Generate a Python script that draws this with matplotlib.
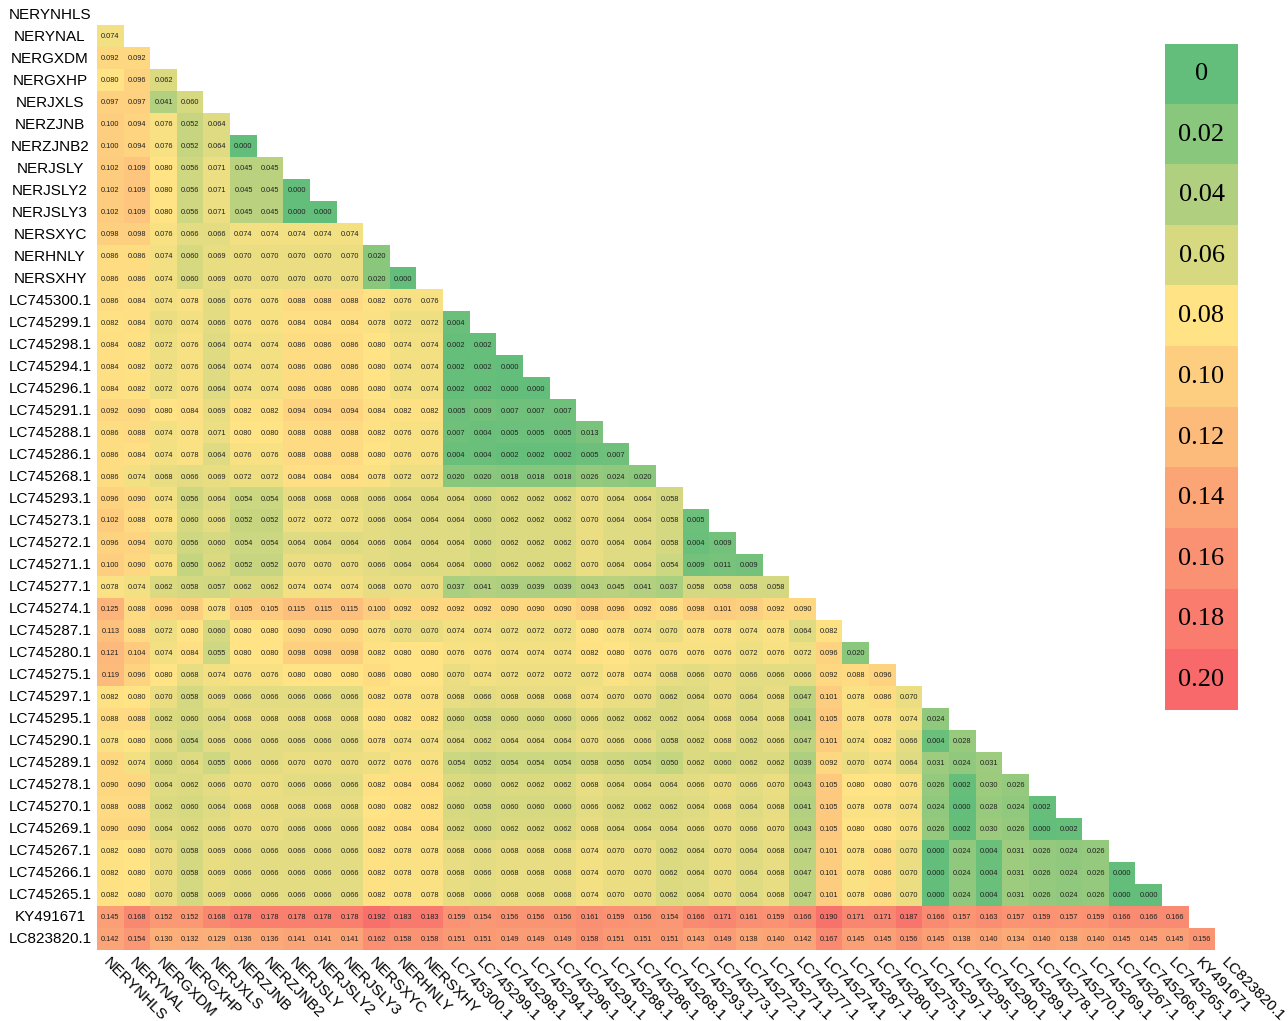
import numpy as np
import matplotlib
matplotlib.use("Agg")
import matplotlib.pyplot as plt
from matplotlib.colors import LinearSegmentedColormap, Normalize

plt.rcParams["font.family"] = ["Liberation Sans", "DejaVu Sans"]

LABELS = [
    "NERYNHLS", "NERYNAL", "NERGXDM", "NERGXHP", "NERJXLS", "NERZJNB", "NERZJNB2",
    "NERJSLY", "NERJSLY2", "NERJSLY3", "NERSXYC", "NERHNLY", "NERSXHY",
    "LC745300.1", "LC745299.1", "LC745298.1", "LC745294.1", "LC745296.1",
    "LC745291.1", "LC745288.1", "LC745286.1", "LC745268.1", "LC745293.1",
    "LC745273.1", "LC745272.1", "LC745271.1", "LC745277.1", "LC745274.1",
    "LC745287.1", "LC745280.1", "LC745275.1", "LC745297.1", "LC745295.1",
    "LC745290.1", "LC745289.1", "LC745278.1", "LC745270.1", "LC745269.1",
    "LC745267.1", "LC745266.1", "LC745265.1", "KY491671", "LC823820.1",
]

# lower triangle of the pairwise distance matrix, row by row (diagonal excluded)
DIST_ROWS = [
    [],
    [0.074],
    [0.092, 0.092],
    [0.080, 0.096, 0.062],
    [0.097, 0.097, 0.041, 0.060],
    [0.100, 0.094, 0.076, 0.052, 0.064],
    [0.100, 0.094, 0.076, 0.052, 0.064, 0.000],
    [0.102, 0.109, 0.080, 0.056, 0.071, 0.045, 0.045],
    [0.102, 0.109, 0.080, 0.056, 0.071, 0.045, 0.045, 0.000],
    [0.102, 0.109, 0.080, 0.056, 0.071, 0.045, 0.045, 0.000, 0.000],
    [0.098, 0.098, 0.076, 0.066, 0.066, 0.074, 0.074, 0.074, 0.074, 0.074],
    [0.086, 0.086, 0.074, 0.060, 0.069, 0.070, 0.070, 0.070, 0.070, 0.070, 0.020],
    [0.086, 0.086, 0.074, 0.060, 0.069, 0.070, 0.070, 0.070, 0.070, 0.070, 0.020, 0.000],
    [0.086, 0.084, 0.074, 0.078, 0.066, 0.076, 0.076, 0.088, 0.088, 0.088, 0.082, 0.076, 0.076],
    [0.082, 0.084, 0.070, 0.074, 0.066, 0.076, 0.076, 0.084, 0.084, 0.084, 0.078, 0.072, 0.072,
     0.004],
    [0.084, 0.082, 0.072, 0.076, 0.064, 0.074, 0.074, 0.086, 0.086, 0.086, 0.080, 0.074, 0.074,
     0.002, 0.002],
    [0.084, 0.082, 0.072, 0.076, 0.064, 0.074, 0.074, 0.086, 0.086, 0.086, 0.080, 0.074, 0.074,
     0.002, 0.002, 0.000],
    [0.084, 0.082, 0.072, 0.076, 0.064, 0.074, 0.074, 0.086, 0.086, 0.086, 0.080, 0.074, 0.074,
     0.002, 0.002, 0.000, 0.000],
    [0.092, 0.090, 0.080, 0.084, 0.069, 0.082, 0.082, 0.094, 0.094, 0.094, 0.084, 0.082, 0.082,
     0.005, 0.009, 0.007, 0.007, 0.007],
    [0.086, 0.088, 0.074, 0.078, 0.071, 0.080, 0.080, 0.088, 0.088, 0.088, 0.082, 0.076, 0.076,
     0.007, 0.004, 0.005, 0.005, 0.005, 0.013],
    [0.086, 0.084, 0.074, 0.078, 0.064, 0.076, 0.076, 0.088, 0.088, 0.088, 0.080, 0.076, 0.076,
     0.004, 0.004, 0.002, 0.002, 0.002, 0.005, 0.007],
    [0.086, 0.074, 0.068, 0.066, 0.069, 0.072, 0.072, 0.084, 0.084, 0.084, 0.078, 0.072, 0.072,
     0.020, 0.020, 0.018, 0.018, 0.018, 0.026, 0.024, 0.020],
    [0.096, 0.090, 0.074, 0.056, 0.064, 0.054, 0.054, 0.068, 0.068, 0.068, 0.066, 0.064, 0.064,
     0.064, 0.060, 0.062, 0.062, 0.062, 0.070, 0.064, 0.064, 0.058],
    [0.102, 0.088, 0.078, 0.060, 0.066, 0.052, 0.052, 0.072, 0.072, 0.072, 0.066, 0.064, 0.064,
     0.064, 0.060, 0.062, 0.062, 0.062, 0.070, 0.064, 0.064, 0.058, 0.005],
    [0.096, 0.094, 0.070, 0.056, 0.060, 0.054, 0.054, 0.064, 0.064, 0.064, 0.066, 0.064, 0.064,
     0.064, 0.060, 0.062, 0.062, 0.062, 0.070, 0.064, 0.064, 0.058, 0.004, 0.009],
    [0.100, 0.090, 0.076, 0.050, 0.062, 0.052, 0.052, 0.070, 0.070, 0.070, 0.066, 0.064, 0.064,
     0.064, 0.060, 0.062, 0.062, 0.062, 0.070, 0.064, 0.064, 0.054, 0.009, 0.011, 0.009],
    [0.078, 0.074, 0.062, 0.058, 0.057, 0.062, 0.062, 0.074, 0.074, 0.074, 0.068, 0.070, 0.070,
     0.037, 0.041, 0.039, 0.039, 0.039, 0.043, 0.045, 0.041, 0.037, 0.058, 0.058, 0.058, 0.058],
    [0.125, 0.088, 0.096, 0.098, 0.078, 0.105, 0.105, 0.115, 0.115, 0.115, 0.100, 0.092, 0.092,
     0.092, 0.092, 0.090, 0.090, 0.090, 0.098, 0.096, 0.092, 0.086, 0.098, 0.101, 0.098, 0.092,
     0.090],
    [0.113, 0.088, 0.072, 0.080, 0.060, 0.080, 0.080, 0.090, 0.090, 0.090, 0.076, 0.070, 0.070,
     0.074, 0.074, 0.072, 0.072, 0.072, 0.080, 0.078, 0.074, 0.070, 0.078, 0.078, 0.074, 0.078,
     0.064, 0.082],
    [0.121, 0.104, 0.074, 0.084, 0.055, 0.080, 0.080, 0.098, 0.098, 0.098, 0.082, 0.080, 0.080,
     0.076, 0.076, 0.074, 0.074, 0.074, 0.082, 0.080, 0.076, 0.076, 0.076, 0.076, 0.072, 0.076,
     0.072, 0.096, 0.020],
    [0.119, 0.096, 0.080, 0.068, 0.074, 0.076, 0.076, 0.080, 0.080, 0.080, 0.086, 0.080, 0.080,
     0.070, 0.074, 0.072, 0.072, 0.072, 0.072, 0.078, 0.074, 0.068, 0.066, 0.070, 0.066, 0.066,
     0.066, 0.092, 0.088, 0.096],
    [0.082, 0.080, 0.070, 0.058, 0.069, 0.066, 0.066, 0.066, 0.066, 0.066, 0.082, 0.078, 0.078,
     0.068, 0.066, 0.068, 0.068, 0.068, 0.074, 0.070, 0.070, 0.062, 0.064, 0.070, 0.064, 0.068,
     0.047, 0.101, 0.078, 0.086, 0.070],
    [0.088, 0.088, 0.062, 0.060, 0.064, 0.068, 0.068, 0.068, 0.068, 0.068, 0.080, 0.082, 0.082,
     0.060, 0.058, 0.060, 0.060, 0.060, 0.066, 0.062, 0.062, 0.062, 0.064, 0.068, 0.064, 0.068,
     0.041, 0.105, 0.078, 0.078, 0.074, 0.024],
    [0.078, 0.080, 0.066, 0.054, 0.066, 0.066, 0.066, 0.066, 0.066, 0.066, 0.078, 0.074, 0.074,
     0.064, 0.062, 0.064, 0.064, 0.064, 0.070, 0.066, 0.066, 0.058, 0.062, 0.068, 0.062, 0.066,
     0.047, 0.101, 0.074, 0.082, 0.066, 0.004, 0.028],
    [0.092, 0.074, 0.060, 0.064, 0.055, 0.066, 0.066, 0.070, 0.070, 0.070, 0.072, 0.076, 0.076,
     0.054, 0.052, 0.054, 0.054, 0.054, 0.058, 0.056, 0.054, 0.050, 0.062, 0.060, 0.062, 0.062,
     0.039, 0.092, 0.070, 0.074, 0.064, 0.031, 0.024, 0.031],
    [0.090, 0.090, 0.064, 0.062, 0.066, 0.070, 0.070, 0.066, 0.066, 0.066, 0.082, 0.084, 0.084,
     0.062, 0.060, 0.062, 0.062, 0.062, 0.068, 0.064, 0.064, 0.064, 0.066, 0.070, 0.066, 0.070,
     0.043, 0.105, 0.080, 0.080, 0.076, 0.026, 0.002, 0.030, 0.026],
    [0.088, 0.088, 0.062, 0.060, 0.064, 0.068, 0.068, 0.068, 0.068, 0.068, 0.080, 0.082, 0.082,
     0.060, 0.058, 0.060, 0.060, 0.060, 0.066, 0.062, 0.062, 0.062, 0.064, 0.068, 0.064, 0.068,
     0.041, 0.105, 0.078, 0.078, 0.074, 0.024, 0.000, 0.028, 0.024, 0.002],
    [0.090, 0.090, 0.064, 0.062, 0.066, 0.070, 0.070, 0.066, 0.066, 0.066, 0.082, 0.084, 0.084,
     0.062, 0.060, 0.062, 0.062, 0.062, 0.068, 0.064, 0.064, 0.064, 0.066, 0.070, 0.066, 0.070,
     0.043, 0.105, 0.080, 0.080, 0.076, 0.026, 0.002, 0.030, 0.026, 0.000, 0.002],
    [0.082, 0.080, 0.070, 0.058, 0.069, 0.066, 0.066, 0.066, 0.066, 0.066, 0.082, 0.078, 0.078,
     0.068, 0.066, 0.068, 0.068, 0.068, 0.074, 0.070, 0.070, 0.062, 0.064, 0.070, 0.064, 0.068,
     0.047, 0.101, 0.078, 0.086, 0.070, 0.000, 0.024, 0.004, 0.031, 0.026, 0.024, 0.026],
    [0.082, 0.080, 0.070, 0.058, 0.069, 0.066, 0.066, 0.066, 0.066, 0.066, 0.082, 0.078, 0.078,
     0.068, 0.066, 0.068, 0.068, 0.068, 0.074, 0.070, 0.070, 0.062, 0.064, 0.070, 0.064, 0.068,
     0.047, 0.101, 0.078, 0.086, 0.070, 0.000, 0.024, 0.004, 0.031, 0.026, 0.024, 0.026, 0.000],
    [0.082, 0.080, 0.070, 0.058, 0.069, 0.066, 0.066, 0.066, 0.066, 0.066, 0.082, 0.078, 0.078,
     0.068, 0.066, 0.068, 0.068, 0.068, 0.074, 0.070, 0.070, 0.062, 0.064, 0.070, 0.064, 0.068,
     0.047, 0.101, 0.078, 0.086, 0.070, 0.000, 0.024, 0.004, 0.031, 0.026, 0.024, 0.026, 0.000,
     0.000],
    [0.145, 0.168, 0.152, 0.152, 0.168, 0.178, 0.178, 0.178, 0.178, 0.178, 0.192, 0.183, 0.183,
     0.159, 0.154, 0.156, 0.156, 0.156, 0.161, 0.159, 0.156, 0.154, 0.166, 0.171, 0.161, 0.159,
     0.166, 0.190, 0.171, 0.171, 0.187, 0.166, 0.157, 0.163, 0.157, 0.159, 0.157, 0.159, 0.166,
     0.166, 0.166],
    [0.142, 0.154, 0.130, 0.132, 0.129, 0.136, 0.136, 0.141, 0.141, 0.141, 0.162, 0.158, 0.158,
     0.151, 0.151, 0.149, 0.149, 0.149, 0.158, 0.151, 0.151, 0.151, 0.143, 0.149, 0.138, 0.140,
     0.142, 0.167, 0.145, 0.145, 0.156, 0.145, 0.138, 0.140, 0.134, 0.140, 0.138, 0.140, 0.145,
     0.145, 0.145, 0.156],
]

CBAR_TICKS = [0, 0.02, 0.04, 0.06, 0.08, 0.10, 0.12, 0.14, 0.16, 0.18, 0.20]
CBAR_LABELS = ["0", "0.02", "0.04", "0.06", "0.08", "0.10", "0.12", "0.14", "0.16", "0.18", "0.20"]

# excel-like green / yellow / red scale
cmap = LinearSegmentedColormap.from_list(
    "gyr", [(0.0, "#63be7b"), (0.4, "#ffe384"), (1.0, "#f8696b")])
norm = Normalize(vmin=0, vmax=0.2)

n = len(LABELS)
mat = np.full((n, n), np.nan)
for i, row in enumerate(DIST_ROWS):
    mat[i, :len(row)] = row
masked = np.ma.masked_invalid(mat)

fig = plt.figure(figsize=(12.88, 10.21), dpi=100)
ax = fig.add_axes([97 / 1288, 71 / 1021, 1145 / 1288, 946 / 1021])
ax.imshow(masked, cmap=cmap, norm=norm, aspect="auto", interpolation="nearest")

for i, row in enumerate(DIST_ROWS):
    for j, v in enumerate(row):
        ax.text(j, i, f"{v:.3f}", ha="center", va="center", fontsize=5.3, color="#222222")

for s in ax.spines.values():
    s.set_visible(False)
ax.set_xlim(-0.5, n - 0.5)
ax.set_ylim(n - 0.5, -0.5)
ax.tick_params(length=0)
ax.set_yticks([])
ax.set_xticks(np.arange(n))
ax.set_xticklabels(LABELS, rotation=-45, ha="left", va="top",
                   rotation_mode="anchor", fontsize=11)
for i, lab in enumerate(LABELS):
    ax.text(-0.041, i, lab, transform=ax.get_yaxis_transform(),
            ha="center", va="center", fontsize=11)

# discrete legend bar with labels inside
cax = fig.add_axes([1165 / 1288, 311 / 1021, 73 / 1288, 666 / 1021])
cax.imshow(np.array(CBAR_TICKS)[:, None], cmap=cmap, norm=norm, aspect="auto",
           interpolation="nearest")
for k, lab in enumerate(CBAR_LABELS):
    cax.text(0, k, lab, ha="center", va="center", fontsize=19,
             family=["Liberation Serif", "DejaVu Serif"])
cax.set_axis_off()

fig.savefig("out.png", dpi=100)
